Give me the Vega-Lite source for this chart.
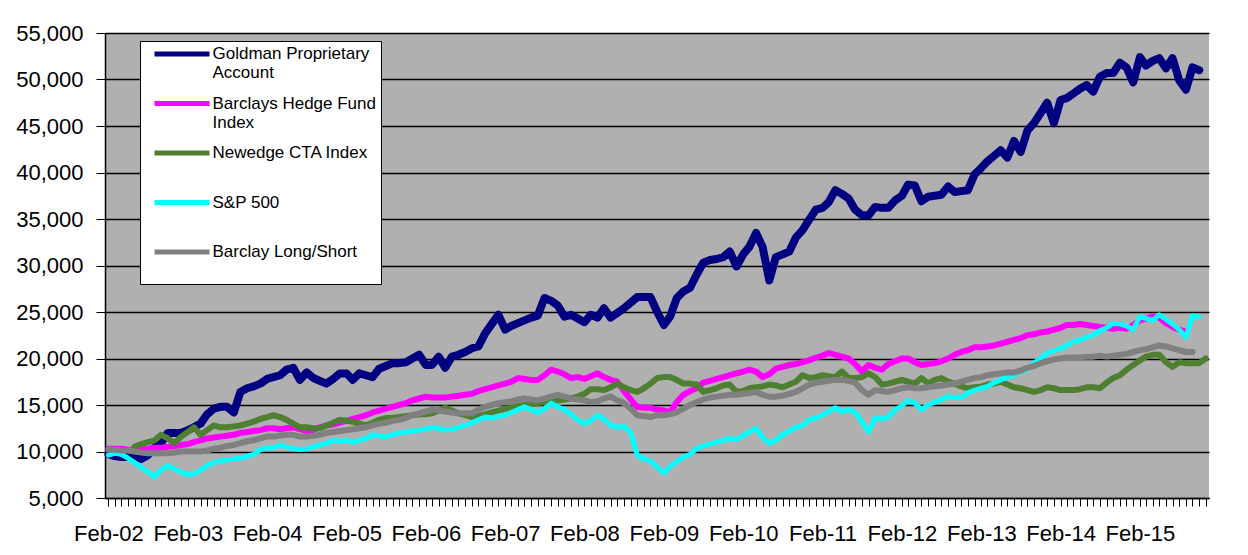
{
"$schema": "https://vega.github.io/schema/vega-lite/v6.json",
"width": 1104, "height": 465,
"autosize": {"type": "none"},
"padding": {"left": 105, "top": 33, "right": 39, "bottom": 57},
"background": "white",
"config": {"view": {"fill": "#b0b0b0", "stroke": null}, "font": "Liberation Sans"},
"data": {"values": [
{"d":"2002-02-01","G":9700,"B":10300,"S":9600,"L":10200},
{"d":"2002-03-01","G":9500,"B":10300,"S":9800,"L":10200},
{"d":"2002-04-01","G":9400,"B":10300,"S":9700,"L":10100},
{"d":"2002-05-01","G":9400,"B":10200,"S":9300,"L":10100},
{"d":"2002-06-01","G":9500,"B":10200,"N":10500,"S":8800,"L":10000},
{"d":"2002-07-01","G":9200,"B":10200,"N":10800,"S":8300,"L":9900},
{"d":"2002-08-01","G":9600,"B":10300,"N":11000,"S":7800,"L":9800},
{"d":"2002-09-01","G":10400,"B":10400,"N":11200,"S":7300,"L":9800},
{"d":"2002-10-01","G":10900,"B":10400,"N":11800,"S":8000,"L":9800},
{"d":"2002-11-01","G":12000,"B":10500,"N":11400,"S":8500,"L":9800},
{"d":"2002-12-01","G":12000,"B":10600,"N":10900,"S":8100,"L":9900},
{"d":"2003-01-01","G":12000,"B":10700,"N":11600,"S":7800,"L":10000},
{"d":"2003-02-01","G":12300,"B":10800,"N":12100,"S":7500,"L":10000},
{"d":"2003-03-01","G":12600,"B":11000,"N":12600,"S":7600,"L":10000},
{"d":"2003-04-01","G":13000,"B":11200,"N":11800,"S":8000,"L":10000},
{"d":"2003-05-01","G":14000,"B":11400,"N":12300,"S":8500,"L":10100},
{"d":"2003-06-01","G":14600,"B":11500,"N":12800,"S":8800,"L":10300},
{"d":"2003-07-01","G":14800,"B":11600,"N":12600,"S":9000,"L":10400},
{"d":"2003-08-01","G":14800,"B":11700,"N":12600,"S":9100,"L":10600},
{"d":"2003-09-01","G":14200,"B":11800,"N":12700,"S":9200,"L":10700},
{"d":"2003-10-01","G":16400,"B":12000,"N":12800,"S":9300,"L":10900},
{"d":"2003-11-01","G":16800,"B":12100,"N":13000,"S":9500,"L":11100},
{"d":"2003-12-01","G":17000,"B":12200,"N":13200,"S":9700,"L":11200},
{"d":"2004-01-01","G":17300,"B":12300,"N":13500,"S":10200,"L":11400},
{"d":"2004-02-01","G":17800,"B":12500,"N":13700,"S":10400,"L":11600},
{"d":"2004-03-01","G":18000,"B":12500,"N":13900,"S":10400,"L":11600},
{"d":"2004-04-01","G":18200,"B":12400,"N":13700,"S":10700,"L":11700},
{"d":"2004-05-01","G":18800,"B":12500,"N":13400,"S":10500,"L":11800},
{"d":"2004-06-01","G":19000,"B":12600,"N":13000,"S":10300,"L":11800},
{"d":"2004-07-01","G":17700,"B":12400,"N":12600,"S":10200,"L":11600},
{"d":"2004-08-01","G":18500,"B":12200,"N":12600,"S":10300,"L":11600},
{"d":"2004-09-01","G":17900,"B":12300,"N":12500,"S":10500,"L":11700},
{"d":"2004-10-01","G":17600,"B":12600,"N":12500,"S":10700,"L":11800},
{"d":"2004-11-01","G":17300,"B":12800,"N":12800,"S":10900,"L":12000},
{"d":"2004-12-01","G":17800,"B":12900,"N":13100,"S":11200,"L":12100},
{"d":"2005-01-01","G":18400,"B":13100,"N":13400,"S":11100,"L":12200},
{"d":"2005-02-01","G":18400,"B":13300,"N":13300,"S":11200,"L":12300},
{"d":"2005-03-01","G":17700,"B":13500,"N":13200,"S":11000,"L":12400},
{"d":"2005-04-01","G":18400,"B":13700,"N":13000,"S":11200,"L":12500},
{"d":"2005-05-01","G":18200,"B":13900,"N":12800,"S":11400,"L":12600},
{"d":"2005-06-01","G":18000,"B":14200,"N":13100,"S":11800,"L":12800},
{"d":"2005-07-01","G":18900,"B":14400,"N":13400,"S":11700,"L":13000},
{"d":"2005-08-01","G":19200,"B":14600,"N":13600,"S":11600,"L":13100},
{"d":"2005-09-01","G":19500,"B":14800,"N":13600,"S":11800,"L":13300},
{"d":"2005-10-01","G":19500,"B":15000,"N":13700,"S":12000,"L":13400},
{"d":"2005-11-01","G":19600,"B":15200,"N":13800,"S":12100,"L":13600},
{"d":"2005-12-01","G":20000,"B":15500,"N":13900,"S":12200,"L":13900},
{"d":"2006-01-01","G":20400,"B":15700,"N":14000,"S":12300,"L":14100},
{"d":"2006-02-01","G":19300,"B":15900,"N":14000,"S":12400,"L":14300},
{"d":"2006-03-01","G":19300,"B":15800,"N":14100,"S":12600,"L":14500},
{"d":"2006-04-01","G":20200,"B":15800,"N":14400,"S":12500,"L":14400},
{"d":"2006-05-01","G":19000,"B":15800,"N":14700,"S":12300,"L":14300},
{"d":"2006-06-01","G":20200,"B":15900,"N":14400,"S":12400,"L":14200},
{"d":"2006-07-01","G":20400,"B":16000,"N":14100,"S":12600,"L":14100},
{"d":"2006-08-01","G":20700,"B":16100,"N":13900,"S":12800,"L":14100},
{"d":"2006-09-01","G":21100,"B":16200,"N":13700,"S":13100,"L":14100},
{"d":"2006-10-01","G":21300,"B":16500,"N":13800,"S":13400,"L":14500},
{"d":"2006-11-01","G":22700,"B":16700,"N":14000,"S":13700,"L":14800},
{"d":"2006-12-01","G":23700,"B":16900,"N":14200,"S":13600,"L":15000},
{"d":"2007-01-01","G":24700,"B":17100,"N":14400,"S":13800,"L":15200},
{"d":"2007-02-01","G":23100,"B":17300,"N":14600,"S":13900,"L":15300},
{"d":"2007-03-01","G":23500,"B":17500,"N":14700,"S":14200,"L":15400},
{"d":"2007-04-01","G":23800,"B":17900,"N":14900,"S":14500,"L":15600},
{"d":"2007-05-01","G":24100,"B":17800,"N":15000,"S":14800,"L":15700},
{"d":"2007-06-01","G":24400,"B":17700,"N":15100,"S":14500,"L":15600},
{"d":"2007-07-01","G":24600,"B":17700,"N":15200,"S":14200,"L":15500},
{"d":"2007-08-01","G":26500,"B":18200,"N":15300,"S":14600,"L":15700},
{"d":"2007-09-01","G":26200,"B":18800,"N":15400,"S":15200,"L":15900},
{"d":"2007-10-01","G":25700,"B":18600,"N":15500,"S":14800,"L":16100},
{"d":"2007-11-01","G":24500,"B":18300,"N":15600,"S":14500,"L":15900},
{"d":"2007-12-01","G":24700,"B":17900,"N":15700,"S":14000,"L":15700},
{"d":"2008-01-01","G":24300,"B":18000,"N":15900,"S":13400,"L":15600},
{"d":"2008-02-01","G":23900,"B":17800,"N":16200,"S":13000,"L":15500},
{"d":"2008-03-01","G":24700,"B":18100,"N":16700,"S":13300,"L":15300},
{"d":"2008-04-01","G":24400,"B":18400,"N":16700,"S":13900,"L":15400},
{"d":"2008-05-01","G":25400,"B":18000,"N":16600,"S":13500,"L":15700},
{"d":"2008-06-01","G":24400,"B":17700,"N":16900,"S":12800,"L":15900},
{"d":"2008-07-01","G":24900,"B":17500,"N":17300,"S":12600,"L":15500},
{"d":"2008-08-01","G":25400,"B":16500,"N":16900,"S":12700,"L":15200},
{"d":"2008-09-01","G":26000,"B":15600,"N":16600,"S":12000,"L":14600},
{"d":"2008-10-01","G":26600,"B":14800,"N":16400,"S":9600,"L":13900},
{"d":"2008-11-01","G":26600,"B":14700,"N":16800,"S":9200,"L":13800},
{"d":"2008-12-01","G":26600,"B":14700,"N":17300,"S":9000,"L":13700},
{"d":"2009-01-01","G":25000,"B":14500,"N":17900,"S":8300,"L":13900},
{"d":"2009-02-01","G":23600,"B":14400,"N":18000,"S":7700,"L":13900},
{"d":"2009-03-01","G":24500,"B":14200,"N":18000,"S":8400,"L":14000},
{"d":"2009-04-01","G":26500,"B":15300,"N":17700,"S":8900,"L":14200},
{"d":"2009-05-01","G":27200,"B":16100,"N":17300,"S":9400,"L":14600},
{"d":"2009-06-01","G":27600,"B":16500,"N":17300,"S":9700,"L":15000},
{"d":"2009-07-01","G":29000,"B":16800,"N":17200,"S":10300,"L":15300},
{"d":"2009-08-01","G":30300,"B":17400,"N":16400,"S":10600,"L":15600},
{"d":"2009-09-01","G":30600,"B":17600,"N":16600,"S":10800,"L":15800},
{"d":"2009-10-01","G":30700,"B":17800,"N":16800,"S":11000,"L":15900},
{"d":"2009-11-01","G":30900,"B":18000,"N":17100,"S":11200,"L":16000},
{"d":"2009-12-01","G":31500,"B":18200,"N":17200,"S":11400,"L":16100},
{"d":"2010-01-01","G":29900,"B":18400,"N":16400,"S":11300,"L":16100},
{"d":"2010-02-01","G":31200,"B":18600,"N":16500,"S":11700,"L":16200},
{"d":"2010-03-01","G":32000,"B":18800,"N":16800,"S":12100,"L":16300},
{"d":"2010-04-01","G":33500,"B":18600,"N":16900,"S":12500,"L":16400},
{"d":"2010-05-01","G":32000,"B":18000,"N":17000,"S":11500,"L":16100},
{"d":"2010-06-01","G":28400,"B":18300,"N":17200,"S":10900,"L":15900},
{"d":"2010-07-01","G":30900,"B":18900,"N":17100,"S":11200,"L":15900},
{"d":"2010-08-01","G":31200,"B":19100,"N":16900,"S":11800,"L":16000},
{"d":"2010-09-01","G":31500,"B":19300,"N":17200,"S":12200,"L":16200},
{"d":"2010-10-01","G":33000,"B":19400,"N":17500,"S":12600,"L":16400},
{"d":"2010-11-01","G":33800,"B":19600,"N":18200,"S":12800,"L":16800},
{"d":"2010-12-01","G":34900,"B":19800,"N":17900,"S":13400,"L":17200},
{"d":"2011-01-01","G":36000,"B":20100,"N":18000,"S":13600,"L":17400},
{"d":"2011-02-01","G":36200,"B":20300,"N":18200,"S":13900,"L":17500},
{"d":"2011-03-01","G":36800,"B":20600,"N":18100,"S":14300,"L":17600},
{"d":"2011-04-01","G":38100,"B":20400,"N":18000,"S":14700,"L":17700},
{"d":"2011-05-01","G":37700,"B":20200,"N":18600,"S":14300,"L":17700},
{"d":"2011-06-01","G":37200,"B":20000,"N":17900,"S":14500,"L":17600},
{"d":"2011-07-01","G":36000,"B":19400,"N":17900,"S":14200,"L":17400},
{"d":"2011-08-01","G":35400,"B":18600,"N":18000,"S":13200,"L":16600},
{"d":"2011-09-01","G":35400,"B":19300,"N":18400,"S":12100,"L":16100},
{"d":"2011-10-01","G":36300,"B":19000,"N":18000,"S":13600,"L":16600},
{"d":"2011-11-01","G":36200,"B":18800,"N":17200,"S":13500,"L":16500},
{"d":"2011-12-01","G":36200,"B":19400,"N":17300,"S":13700,"L":16400},
{"d":"2012-01-01","G":37000,"B":19700,"N":17500,"S":14500,"L":16600},
{"d":"2012-02-01","G":37500,"B":20000,"N":17700,"S":14900,"L":16800},
{"d":"2012-03-01","G":38700,"B":20000,"N":17500,"S":15500,"L":16900},
{"d":"2012-04-01","G":38600,"B":19600,"N":17300,"S":15200,"L":16800},
{"d":"2012-05-01","G":36900,"B":19300,"N":17900,"S":14500,"L":16800},
{"d":"2012-06-01","G":37400,"B":19400,"N":17300,"S":15000,"L":16900},
{"d":"2012-07-01","G":37500,"B":19500,"N":17700,"S":15300,"L":17000},
{"d":"2012-08-01","G":37600,"B":19700,"N":17900,"S":15600,"L":17100},
{"d":"2012-09-01","G":38500,"B":20000,"N":17500,"S":15900,"L":17200},
{"d":"2012-10-01","G":37900,"B":20400,"N":17300,"S":15800,"L":17300},
{"d":"2012-11-01","G":38000,"B":20700,"N":17000,"S":15800,"L":17500},
{"d":"2012-12-01","G":38100,"B":20900,"N":16800,"S":16300,"L":17700},
{"d":"2013-01-01","G":39800,"B":21200,"N":16900,"S":16600,"L":17900},
{"d":"2013-02-01","G":40500,"B":21200,"N":17000,"S":16800,"L":18000},
{"d":"2013-03-01","G":41200,"B":21300,"N":17200,"S":17000,"L":18200},
{"d":"2013-04-01","G":41800,"B":21400,"N":17300,"S":17400,"L":18300},
{"d":"2013-05-01","G":42400,"B":21600,"N":17500,"S":17700,"L":18400},
{"d":"2013-06-01","G":41600,"B":21800,"N":17200,"S":18000,"L":18500},
{"d":"2013-07-01","G":43400,"B":22000,"N":16900,"S":18200,"L":18500},
{"d":"2013-08-01","G":42200,"B":22200,"N":16800,"S":18600,"L":18700},
{"d":"2013-09-01","G":44500,"B":22500,"N":16600,"S":18800,"L":19000},
{"d":"2013-10-01","G":45300,"B":22600,"N":16400,"S":19500,"L":19200},
{"d":"2013-11-01","G":46400,"B":22800,"N":16600,"S":20000,"L":19500},
{"d":"2013-12-01","G":47500,"B":22900,"N":16900,"S":20600,"L":19700},
{"d":"2014-01-01","G":45300,"B":23100,"N":16800,"S":20800,"L":19900},
{"d":"2014-02-01","G":47800,"B":23300,"N":16600,"S":21100,"L":20000},
{"d":"2014-03-01","G":48000,"B":23600,"N":16600,"S":21400,"L":20100},
{"d":"2014-04-01","G":48500,"B":23600,"N":16600,"S":21800,"L":20100},
{"d":"2014-05-01","G":49000,"B":23700,"N":16700,"S":22000,"L":20100},
{"d":"2014-06-01","G":49400,"B":23600,"N":16900,"S":22300,"L":20200},
{"d":"2014-07-01","G":48700,"B":23500,"N":16900,"S":22500,"L":20200},
{"d":"2014-08-01","G":50300,"B":23400,"N":16800,"S":23000,"L":20300},
{"d":"2014-09-01","G":50700,"B":23300,"N":17400,"S":23300,"L":20200},
{"d":"2014-10-01","G":50700,"B":23200,"N":17900,"S":23800,"L":20300},
{"d":"2014-11-01","G":51800,"B":23300,"N":18200,"S":23700,"L":20400},
{"d":"2014-12-01","G":51300,"B":23200,"N":18800,"S":23500,"L":20500},
{"d":"2015-01-01","G":49700,"B":23600,"N":19300,"S":23100,"L":20700},
{"d":"2015-02-01","G":52400,"B":24100,"N":19800,"S":24500,"L":20900},
{"d":"2015-03-01","G":51500,"B":24300,"N":20200,"S":24300,"L":21000},
{"d":"2015-04-01","G":52000,"B":24500,"N":20400,"S":24100,"L":21200},
{"d":"2015-05-01","G":52300,"B":24400,"N":20400,"S":24700,"L":21400},
{"d":"2015-06-01","G":51200,"B":23800,"N":19600,"S":24200,"L":21300},
{"d":"2015-07-01","G":52300,"B":23400,"N":19100,"S":23700,"L":21100},
{"d":"2015-08-01","G":49900,"B":23100,"N":19600,"S":23100,"L":20900},
{"d":"2015-09-01","G":48900,"B":22900,"N":19500,"S":22300,"L":20700},
{"d":"2015-10-01","G":51300,"N":19500,"S":24600,"L":20700},
{"d":"2015-11-01","G":51000,"N":19500,"S":24500},
{"d":"2015-12-01","N":20000}
]},
"transform": [
  {"fold": ["G","B","N","S","L"], "as": ["key","value"]},
  {"filter": "isValid(datum.value)"}
],
"encoding": {
  "x": {"field": "d", "type": "temporal",
    "scale": {"type": "utc", "domain": [{"year":2002,"month":"jan","date":16,"utc":true},{"year":2015,"month":"dec","date":16,"utc":true}]},
    "axis": {"title": null, "grid": false, "tickCount": {"interval": "month", "step": 1},
      "labelExpr": "utcmonth(datum.value) == 1 ? utcFormat(datum.value, '%b-%y') : ''",
      "labelOverlap": false, "labelBound": false, "labelFlush": false,
      "labelFont": "Liberation Sans", "labelFontSize": 22, "labelColor": "black", "labelPadding": 17,
      "tickSize": 8, "tickColor": "black", "tickWidth": 1, "domainColor": "black", "domainWidth": 1.5}},
  "y": {"field": "value", "type": "quantitative",
    "scale": {"domain": [5000, 55000], "nice": false, "zero": false},
    "axis": {"title": null, "values": [5000,10000,15000,20000,25000,30000,35000,40000,45000,50000,55000], "format": ",.0f",
      "grid": true, "gridColor": "black", "gridWidth": 1.5, "gridOpacity": 1,
      "tickSize": 9, "tickColor": "black", "domainColor": "black", "domainWidth": 1.5,
      "labelFont": "Liberation Sans", "labelFontSize": 22, "labelColor": "black", "labelPadding": 13}},
  "color": {"field": "key", "type": "nominal",
    "scale": {"domain": ["G","B","N","S","L"], "range": ["#000080","#ff00ff","#4f7f30","#00ffff","#808080"]},
    "legend": {"orient": "none", "legendX": 35, "legendY": 8, "title": null,
      "fillColor": "white", "strokeColor": "black", "padding": 4.5,
      "symbolType": "M-5.5,0H5.5", "symbolSize": 100, "symbolStrokeWidth": 5,
      "symbolOffset": 29, "labelOffset": 22, "rowPadding": 11.5,
      "labelFont": "Liberation Sans", "labelFontSize": 17, "labelColor": "black", "labelBaseline": "middle", "labelLimit": 0,
      "labelExpr": "datum.value == 'G' ? ['Goldman Proprietary','Account'] : datum.value == 'B' ? ['Barclays Hedge Fund','Index'] : datum.value == 'N' ? ['Newedge CTA Index',''] : datum.value == 'S' ? ['S&P 500',''] : ['Barclay Long/Short','']"}}
},
"layer": [
  {"transform": [{"filter": "datum.key == 'G'"}], "mark": {"type": "line", "strokeWidth": 8, "strokeJoin": "round", "strokeCap": "round"}},
  {"transform": [{"filter": "datum.key == 'B'"}], "mark": {"type": "line", "strokeWidth": 6, "strokeJoin": "round", "strokeCap": "round"}},
  {"transform": [{"filter": "datum.key == 'N'"}], "mark": {"type": "line", "strokeWidth": 6, "strokeJoin": "round", "strokeCap": "round"}},
  {"transform": [{"filter": "datum.key == 'S'"}], "mark": {"type": "line", "strokeWidth": 5, "strokeJoin": "round", "strokeCap": "round"}},
  {"transform": [{"filter": "datum.key == 'L'"}], "mark": {"type": "line", "strokeWidth": 6, "strokeJoin": "round", "strokeCap": "round"}}
]
}
